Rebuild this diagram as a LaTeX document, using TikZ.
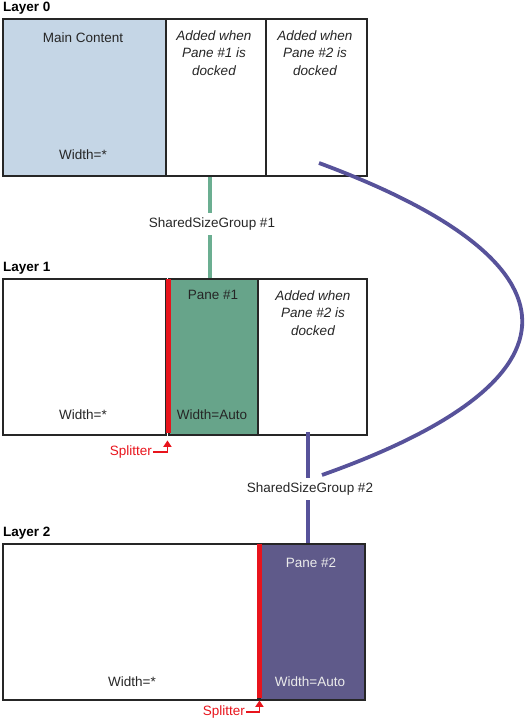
\documentclass[tikz,border=0pt]{standalone}
\usepackage{fontspec}
\setmainfont{Liberation Sans}
\usetikzlibrary{arrows.meta}
\definecolor{paneblue}{HTML}{C5D6E6}
\definecolor{panegreen}{HTML}{67A48A}
\definecolor{panepurple}{HTML}{5F5A8A}
\definecolor{linegreen}{HTML}{6BAE91}
\definecolor{linepurple}{HTML}{57529A}
\definecolor{splitred}{HTML}{E8141C}
\begin{document}
\begin{tikzpicture}[x=1pt,y=-1pt,
  txt/.style={font=\fontsize{13.5}{17.5}\selectfont, inner sep=0pt, align=center, text=black!85},
  itxt/.style={txt, font=\fontsize{13.5}{17.5}\selectfont\itshape},
  wtxt/.style={txt, text=white!92!black},
  layerlbl/.style={font=\fontsize{13.5}{16}\selectfont\bfseries, inner sep=0pt, anchor=west},
  cell/.style={draw=black!85, line width=1.6pt, anchor=north west, inner sep=0pt, minimum height=#1},
  splitbar/.style={fill=splitred, draw=none, anchor=north west, inner sep=0pt, minimum width=4.5pt, minimum height=#1},
  grplbl/.style={txt, inner sep=5pt},
  gline/.style={draw=linegreen, line width=3.5pt},
  pline/.style={draw=linepurple, line width=3.8pt},
  splbl/.style={txt, text=splitred, anchor=east},
  sparrow/.style={draw=splitred, line width=1.8pt, -{Triangle[length=6.5pt,width=8pt]}}
]
\useasboundingbox (0,0) rectangle (525,721);

% Layer 0
\node[layerlbl] (lay0) at (3,8) {Layer 0};
\node[cell=157pt, fill=paneblue, minimum width=163pt] (l0a) at (2,18) {};
\node[cell=157pt, fill=white, minimum width=100pt] (l0b) at (165,18) {};
\node[cell=157pt, fill=white, minimum width=101pt] (l0c) at (265,18) {};
\node[txt] (t0a) at (83,38) {Main Content};
\node[txt] (t0aw) at (83,155) {Width=*};
\node[itxt] (t0b) at (214,53) {Added when\\Pane \#1 is\\docked};
\node[itxt] (t0c) at (315,53) {Added when\\Pane \#2 is\\docked};

% Layer 1
\node[layerlbl] (lay1) at (3,268) {Layer 1};
\node[cell=156pt, fill=white, minimum width=163pt] (l1a) at (2,278) {};
\node[cell=156pt, fill=panegreen, minimum width=89pt] (l1b) at (168,278) {};
\node[cell=156pt, fill=white, minimum width=109pt] (l1c) at (257,278) {};
\node[splitbar=154pt] (l1s) at (166,279) {};
\node[txt] (t1aw) at (83,415) {Width=*};
\node[txt] (t1b) at (213,295) {Pane \#1};
\node[txt] (t1bw) at (212,415) {Width=Auto};
\node[itxt] (t1c) at (313,313) {Added when\\Pane \#2 is\\docked};

% Layer 2
\node[layerlbl] (lay2) at (3,533) {Layer 2};
\node[cell=156pt, fill=white, minimum width=255pt] (l2a) at (2,543) {};
\node[cell=156pt, fill=panepurple, minimum width=105pt] (l2b) at (259,543) {};
\node[splitbar=154pt] (l2s) at (257,544) {};
\node[txt] (t2aw) at (132,682) {Width=*};
\node[wtxt] (t2b) at (311,563) {Pane \#2};
\node[wtxt] (t2bw) at (310,682) {Width=Auto};

% Shared size groups
\node[grplbl] (ssg1) at (212,224) {SharedSizeGroup \#1};
\node[grplbl] (ssg2) at (310,489) {SharedSizeGroup \#2};
\draw[gline] ([xshift=-2pt]ssg1.north) -- ([xshift=-2pt]ssg1.north |- l0b.south);
\draw[gline] ([xshift=-2pt]ssg1.south) -- ([xshift=-2pt]ssg1.south |- l1b.north);
\draw[pline] ([xshift=-2pt]ssg2.north) -- ([xshift=-2pt,yshift=4pt]ssg2.north |- l1c.south);
\draw[pline] ([xshift=-2pt]ssg2.south) -- ([xshift=-2pt]ssg2.south |- l2b.north);
\coordinate (c0) at (319,163);
\coordinate (c1) at (322,475);
\draw[pline] (c0) .. controls (589,263) and (590,380) .. (c1);

% Splitters
\node[splbl] (sp1) at (152,452) {Splitter};
\node[splbl] (sp2) at (245,712) {Splitter};
\draw[sparrow] ([xshift=1pt]sp1.east) -| ([xshift=-1pt,yshift=-7pt]l1s.south);
\draw[sparrow] ([xshift=1pt]sp2.east) -| ([xshift=0pt,yshift=-2pt]l2s.south);
\end{tikzpicture}
\end{document}
